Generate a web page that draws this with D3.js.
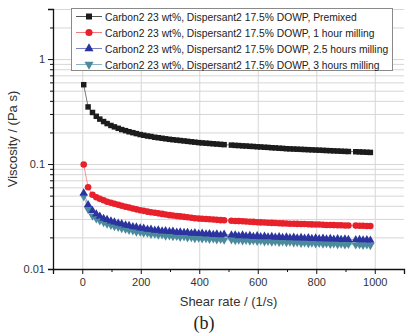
<!DOCTYPE html>
<html>
<head>
<meta charset="utf-8">
<script src="https://cdn.jsdelivr.net/npm/d3@7"></script>
<style>
  body { margin: 0; background: #fff; }
  svg { display: block; font-family: "Liberation Sans", Arial, sans-serif; }
</style>
</head>
<body>
<svg width="409" height="335"></svg>
<script>
// shear rate (1/s)
const shearRate = [5, 20, 35, 48, 60, 73, 85, 98, 110, 123, 135, 148, 160, 173, 185, 198, 210, 223, 235, 248,
  260, 273, 285, 298, 310, 323, 335, 348, 360, 373, 385, 398, 410, 423, 435, 448, 460, 473, 485,
  510, 523, 535, 548, 560, 573, 585, 598, 610, 623, 635, 648, 660, 673, 685, 698, 710, 723, 735, 748,
  760, 773, 785, 798, 810, 823, 835, 848, 860, 873, 885, 898, 910, 935, 948, 960, 973, 985];

// viscosity (Pa s)
const premixed = [0.57, 0.35, 0.31, 0.285, 0.268, 0.254, 0.243, 0.233, 0.226, 0.219, 0.213, 0.208, 0.203, 0.199, 0.195, 0.191, 0.188, 0.185, 0.183, 0.180,
  0.178, 0.176, 0.174, 0.172, 0.1705, 0.169, 0.1675, 0.166, 0.1645, 0.163, 0.1615, 0.160, 0.159, 0.158, 0.157, 0.156, 0.155, 0.154, 0.153,
  0.1515, 0.1505, 0.150, 0.149, 0.1485, 0.1475, 0.147, 0.146, 0.1455, 0.1445, 0.144, 0.143, 0.1425, 0.1415, 0.141, 0.140, 0.1395, 0.139, 0.1385, 0.138,
  0.1375, 0.137, 0.1365, 0.136, 0.1355, 0.135, 0.1345, 0.134, 0.1335, 0.133, 0.1325, 0.132, 0.1316, 0.131, 0.1305, 0.130, 0.1295, 0.129];

const milling1h = [0.099, 0.060, 0.051, 0.0483, 0.0466, 0.0452, 0.0438, 0.0427, 0.0418, 0.0409, 0.0400, 0.0392, 0.0385, 0.0377, 0.0370, 0.0363, 0.0358, 0.0352, 0.0347, 0.0343,
  0.0339, 0.0335, 0.0331, 0.0326, 0.0323, 0.0320, 0.0317, 0.0314, 0.0311, 0.0308, 0.0305, 0.0302, 0.0301, 0.0299, 0.0298, 0.0296, 0.0294, 0.0292, 0.0291,
  0.0288, 0.0287, 0.0286, 0.0285, 0.0283, 0.0282, 0.0281, 0.0279, 0.0278, 0.0277, 0.0276, 0.0275, 0.0274, 0.0273, 0.0272, 0.0271, 0.0270, 0.0270, 0.0269, 0.0268,
  0.0268, 0.0267, 0.0266, 0.0265, 0.0265, 0.0264, 0.0263, 0.0263, 0.0262, 0.0261, 0.0261, 0.0260, 0.0260, 0.0259, 0.0258, 0.0258, 0.0257, 0.0257];

const milling25h = [0.053, 0.041, 0.036, 0.0334, 0.0318, 0.0303, 0.0296, 0.0286, 0.0280, 0.0273, 0.0269, 0.0262, 0.0259, 0.0253, 0.0251, 0.0245, 0.0244, 0.0239, 0.0239, 0.0234,
  0.0235, 0.0230, 0.0231, 0.0227, 0.0228, 0.0224, 0.0225, 0.0222, 0.0223, 0.0219, 0.0221, 0.0217, 0.0219, 0.0215, 0.0217, 0.0213, 0.0215, 0.0211, 0.0214,
  0.0210, 0.0211, 0.0207, 0.0210, 0.0206, 0.0208, 0.0204, 0.0207, 0.0203, 0.0205, 0.0202, 0.0204, 0.0200, 0.0203, 0.0199, 0.0201, 0.0198, 0.0200, 0.0197, 0.0199,
  0.0196, 0.0198, 0.0195, 0.0197, 0.0194, 0.0196, 0.0193, 0.0195, 0.0192, 0.0194, 0.0191, 0.0193, 0.0191, 0.0190, 0.0191, 0.0189, 0.0190, 0.0188];

const milling3h = [0.049, 0.037, 0.032, 0.0302, 0.0288, 0.0278, 0.0269, 0.0262, 0.0255, 0.0250, 0.0244, 0.0240, 0.0234, 0.0232, 0.0226, 0.0225, 0.0220, 0.0220, 0.0215, 0.0216,
  0.0211, 0.0212, 0.0207, 0.0208, 0.0204, 0.0205, 0.0201, 0.0203, 0.0199, 0.0200, 0.0196, 0.0198, 0.0194, 0.0196, 0.0192, 0.0194, 0.0190, 0.0192, 0.0189,
  0.0190, 0.0187, 0.0189, 0.0186, 0.0188, 0.0185, 0.0187, 0.0184, 0.0186, 0.0182, 0.0184, 0.0181, 0.0183, 0.0180, 0.0182, 0.0179, 0.0181, 0.0178, 0.0179, 0.0176,
  0.0178, 0.0175, 0.0177, 0.0174, 0.0176, 0.0173, 0.0175, 0.0172, 0.0174, 0.0171, 0.0173, 0.0170, 0.0172, 0.0170, 0.0171, 0.0169, 0.0170, 0.0168];

const seriesNames = [
  "Carbon2 23 wt%, Dispersant2 17.5% DOWP, Premixed",
  "Carbon2 23 wt%, Dispersant2 17.5% DOWP, 1 hour milling",
  "Carbon2 23 wt%, Dispersant2 17.5% DOWP, 2.5 hours milling",
  "Carbon2 23 wt%, Dispersant2 17.5% DOWP, 3 hours milling"
];

const xTicks = [0, 200, 400, 600, 800, 1000];
const xMinorTicks = [-100, 100, 300, 500, 700, 900, 1100];
const yTicks = [0.01, 0.1, 1];
const yMinorTicks = [0.02, 0.03, 0.04, 0.05, 0.06, 0.07, 0.08, 0.09,
  0.2, 0.3, 0.4, 0.5, 0.6, 0.7, 0.8, 0.9, 2, 3];

const svg = d3.select("svg");
const margin = { top: 9, right: 5, bottom: 66, left: 53 };
const width = +svg.attr("width");
const height = +svg.attr("height");
const innerWidth = width - margin.left - margin.right;
const innerHeight = height - margin.top - margin.bottom;

const g = svg.append("g")
  .attr("transform", `translate(${margin.left},${margin.top})`);

const x = d3.scaleLinear().domain([-100, 1100]).range([0, innerWidth]);
const y = d3.scaleLog().domain([0.01, 3]).range([innerHeight, 0]);

// grid
g.append("g")
  .selectAll("line")
  .data(yTicks.concat(yMinorTicks))
  .enter()
  .append("line")
  .attr("x1", 0)
  .attr("x2", innerWidth)
  .attr("y1", d => y(d) + 0.5)
  .attr("y2", d => y(d) + 0.5)
  .attr("stroke", "#d6d6d6")
  .attr("stroke-width", 1);

g.append("g")
  .selectAll("line")
  .data(xTicks)
  .enter()
  .append("line")
  .attr("x1", d => x(d) + 0.5)
  .attr("x2", d => x(d) + 0.5)
  .attr("y1", 0)
  .attr("y2", innerHeight)
  .attr("stroke", "#d6d6d6")
  .attr("stroke-width", 1);

// axes
g.append("g")
  .attr("transform", `translate(0,${innerHeight})`)
  .call(d3.axisBottom(x).tickValues(xTicks).tickSize(5).tickPadding(4).tickFormat(d3.format("d")));
g.append("g")
  .attr("transform", `translate(0,${innerHeight})`)
  .call(d3.axisBottom(x).tickValues(xMinorTicks).tickSize(3).tickFormat(""))
  .select(".domain").remove();

g.append("g")
  .call(d3.axisLeft(y).tickValues(yTicks).tickSize(5).tickPadding(3).tickFormat(d => d3.format("~g")(d)));
g.append("g")
  .call(d3.axisLeft(y).tickValues(yMinorTicks).tickSize(3).tickFormat(""))
  .select(".domain").remove();

g.selectAll(".domain").attr("stroke", "#111").attr("stroke-width", 1.3);
g.selectAll(".tick line").attr("stroke", "#111");
g.selectAll(".tick text").attr("font-size", 11).attr("fill", "#333")
  .attr("font-family", "'Liberation Sans', Arial, sans-serif");

// axis titles
svg.append("text")
  .attr("transform", "rotate(-90)")
  .attr("x", -(margin.top + innerHeight / 2))
  .attr("y", 17)
  .attr("text-anchor", "middle")
  .attr("font-size", 13)
  .attr("fill", "#333")
  .text("Viscosity / (Pa s)");

svg.append("text")
  .attr("x", margin.left + innerWidth / 2)
  .attr("y", 306)
  .attr("text-anchor", "middle")
  .attr("font-size", 13)
  .attr("fill", "#333")
  .text("Shear rate / (1/s)");

svg.append("text")
  .attr("x", 204)
  .attr("y", 329)
  .attr("text-anchor", "middle")
  .attr("font-size", 18)
  .attr("font-family", "'Liberation Serif', 'DejaVu Serif', serif")
  .attr("fill", "#222")
  .text("(b)");

// series
const series = [
  { name: seriesNames[0], values: premixed, color: "#1c1c1c", line: "#555", symbol: d3.symbolSquare, size: 30, rot: 0 },
  { name: seriesNames[1], values: milling1h, color: "#e8202a", line: "#f07a7e", symbol: d3.symbolCircle, size: 34, rot: 0 },
  { name: seriesNames[2], values: milling25h, color: "#2b33a0", line: "#7a80c4", symbol: d3.symbolTriangle, size: 30, rot: 0 },
  { name: seriesNames[3], values: milling3h, color: "#4b8a9c", line: "#8ab3bf", symbol: d3.symbolTriangle, size: 30, rot: 180 }
];

const line = d3.line()
  .x((d, i) => x(shearRate[i]))
  .y(d => y(d));

series.forEach(s => {
  g.append("path")
    .datum(s.values)
    .attr("fill", "none")
    .attr("stroke", s.line)
    .attr("stroke-width", 0.8)
    .attr("d", line);
});

series.slice().reverse().forEach(s => {
  g.append("g")
    .selectAll("path")
    .data(s.values)
    .enter()
    .append("path")
    .attr("d", d3.symbol().type(s.symbol).size(s.size))
    .attr("transform", (d, i) => `translate(${x(shearRate[i])},${y(d)}) rotate(${s.rot})`)
    .attr("fill", s.color);
});

// legend
const legend = svg.append("g").attr("transform", "translate(71,8)");
legend.append("rect")
  .attr("x", 0.5)
  .attr("y", 0.5)
  .attr("width", 321)
  .attr("height", 62)
  .attr("fill", "#fff")
  .attr("stroke", "#8a8a8a")
  .attr("stroke-width", 1);

const rows = legend.selectAll(".row")
  .data(series)
  .enter()
  .append("g")
  .attr("transform", (d, i) => `translate(0,${8.5 + i * 16})`);

rows.append("line")
  .attr("x1", 5)
  .attr("x2", 31)
  .attr("stroke", d => d.line)
  .attr("stroke-width", 1);

rows.append("path")
  .attr("d", d => d3.symbol().type(d.symbol).size(d.size + 6)())
  .attr("transform", d => `translate(18,0) rotate(${d.rot})`)
  .attr("fill", d => d.color);

rows.append("text")
  .attr("x", 34)
  .attr("y", 4)
  .attr("font-size", 10.3)
  .attr("fill", "#222")
  .text(d => d.name);
</script>
</body>
</html>
